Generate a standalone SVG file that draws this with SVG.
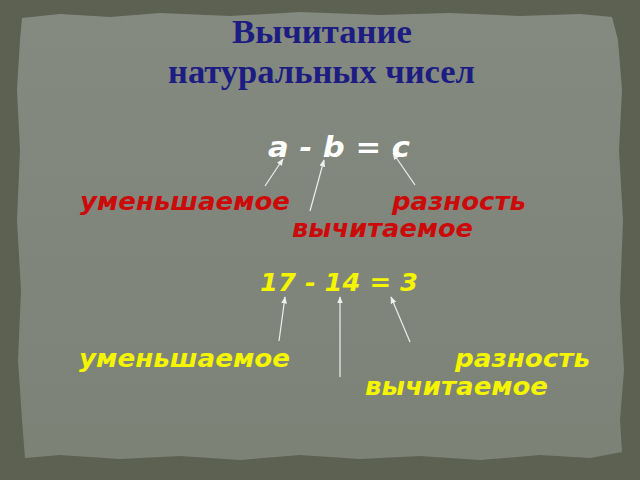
<svg xmlns="http://www.w3.org/2000/svg" width="640" height="480" viewBox="0 0 640 480">
<defs>
<style>
.title{font-family:"Liberation Serif","DejaVu Serif",serif;font-weight:bold;font-size:34px;fill:#1c1c82}
.eq{font-family:"DejaVu Sans","Liberation Sans",sans-serif;font-weight:bold;font-style:italic}
.lbl{font-family:"DejaVu Sans","Liberation Sans",sans-serif;font-weight:bold;font-style:italic;font-size:24px}
.red{fill:#cc0a0a}
.yel{fill:#f5f500}
.arr{stroke:#eeeeee;stroke-width:1.2;fill:none;marker-end:url(#ah)}
</style>
<marker id="ah" viewBox="0 0 10 10" refX="9" refY="5" markerWidth="6" markerHeight="6" orient="auto">
<path d="M0,1 L10,5 L0,9 Z" fill="#eeeeee"/>
</marker>
<linearGradient id="pg" x1="0" y1="0" x2="0" y2="1">
<stop offset="0" stop-color="#848a80"/>
<stop offset="1" stop-color="#7c8276"/>
</linearGradient>
</defs>
<rect id="bg" x="0" y="0" width="640" height="480" fill="#5c6152"/>
<g id="paper">
<path d="M22,18 L60,14 L110,17 L160,13 L230,16 L300,12 L380,15 L450,13 L520,16 L580,14 L612,17 L618,40 L622,90 L619,150 L623,220 L620,300 L624,370 L620,420 L622,452 L590,458 L540,455 L480,460 L420,456 L360,459 L300,455 L240,460 L180,456 L120,459 L60,455 L25,458 L22,420 L18,360 L21,290 L17,220 L20,150 L17,90 L20,40 Z" fill="url(#pg)"/>
</g>
<g id="title">
<text class="title" x="232" y="43" textLength="180" lengthAdjust="spacingAndGlyphs">Вычитание</text>
<text class="title" x="168" y="83" textLength="307" lengthAdjust="spacingAndGlyphs">натуральных чисел</text>
</g>
<g id="connectors">
<line class="arr" x1="265" y1="186" x2="283" y2="159"/>
<line class="arr" x1="310" y1="211" x2="324" y2="160"/>
<line class="arr" x1="415" y1="185" x2="393" y2="153"/>
<line class="arr" x1="279" y1="341" x2="285" y2="297"/>
<line class="arr" x1="340" y1="377" x2="340" y2="297"/>
<line class="arr" x1="410" y1="342" x2="391" y2="297"/>
</g>
<g id="eq1">
<text class="eq" x="268" y="157" font-size="29" fill="#ffffff" textLength="142" lengthAdjust="spacingAndGlyphs">a - b = c</text>
</g>
<g id="labels1">
<text class="lbl red" x="80" y="210" textLength="210" lengthAdjust="spacingAndGlyphs">уменьшаемое</text>
<text class="lbl red" x="392" y="210" textLength="134" lengthAdjust="spacingAndGlyphs">разность</text>
<text class="lbl red" x="292" y="237" textLength="181" lengthAdjust="spacingAndGlyphs">вычитаемое</text>
</g>
<g id="eq2">
<text class="eq yel" x="260" y="291" font-size="25" textLength="158" lengthAdjust="spacingAndGlyphs">17 - 14 = 3</text>
</g>
<g id="labels2">
<text class="lbl yel" x="79" y="367" textLength="211" lengthAdjust="spacingAndGlyphs">уменьшаемое</text>
<text class="lbl yel" x="455" y="367" textLength="135" lengthAdjust="spacingAndGlyphs">разность</text>
<text class="lbl yel" x="365" y="395" textLength="183" lengthAdjust="spacingAndGlyphs">вычитаемое</text>
</g>
</svg>
